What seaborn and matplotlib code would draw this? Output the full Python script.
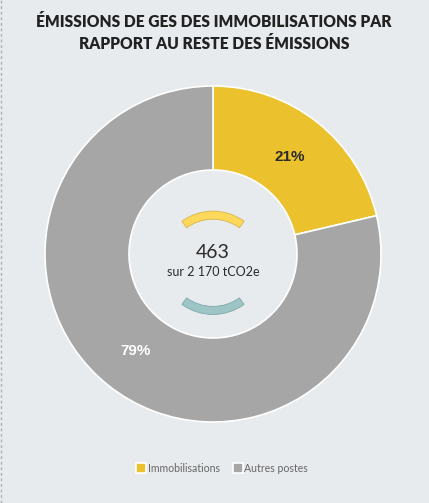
import matplotlib
matplotlib.use("Agg")
import matplotlib.pyplot as plt
import seaborn as sns
from matplotlib.patches import Wedge
from matplotlib.lines import Line2D

# data
categories = ["Immobilisations", "Autres postes"]
values = [463, 1707]
total_label = "sur 2 170 tCO2e"
center_value = "463"
colors = ["#ebc12d", "#a6a6a6"]

bg = "#e8ebee"
sns.set_theme(style="white")
plt.rcParams["font.family"] = ["Lato", "DejaVu Sans"]

fig = plt.figure(figsize=(4.29, 5.03), dpi=100, facecolor=bg)
W, H = 429, 503

# donut centre (213, 254) px, outer radius 168 px
cx, cy, r = 213, 254, 168
ax = fig.add_axes([(cx - r) / W, (H - cy - r) / H, 2 * r / W, 2 * r / H])
ax.set_facecolor(bg)

wedges, texts, autotexts = ax.pie(
    values, colors=colors, startangle=90, counterclock=False,
    autopct="%1.0f%%", pctdistance=0.74,
    wedgeprops=dict(width=0.5, edgecolor="white", linewidth=1.2),
    textprops=dict(fontsize=11, fontweight="bold", family="Liberation Sans"),
)
autotexts[0].set_color("#2b2b2b")
autotexts[1].set_color("white")
ax.set_xlim(-1, 1)
ax.set_ylim(-1, 1)
ax.axis("off")

# decorative arcs in the centre
ax.add_patch(Wedge((0, -0.06), 0.315, 54, 126, width=0.048,
                   facecolor="#fdd85a", edgecolor="#d8b54a", linewidth=0.6))
ax.add_patch(Wedge((0, -0.045), 0.315, 234, 306, width=0.048,
                   facecolor="#9dc5c6", edgecolor="#7fa9aa", linewidth=0.6))

ax.text(0, 0.01, center_value, ha="center", va="center", fontsize=14, color="#2b2b2b")
ax.text(0, -0.105, total_label, ha="center", va="center", fontsize=9, color="#2b2b2b")

# title
fig.text(214 / W, 1 - 22 / H, "ÉMISSIONS DE GES DES IMMOBILISATIONS PAR",
         ha="center", va="center", fontsize=11.2, fontweight="heavy", color="#222222")
fig.text(214 / W, 1 - 44 / H, "RAPPORT AU RESTE DES ÉMISSIONS",
         ha="center", va="center", fontsize=11.2, fontweight="heavy", color="#222222")

# legend
handles = [Line2D([0], [0], marker="s", linestyle="", markersize=7,
                  markerfacecolor=c, markeredgecolor="white", markeredgewidth=1.2)
           for c in colors]
leg = fig.legend(handles, categories, loc="center", bbox_to_anchor=(222 / W, 1 - 468 / H),
                 ncol=2, frameon=False, fontsize=7.6, handletextpad=0.1,
                 columnspacing=1.2, handlelength=1.0)
for t in leg.get_texts():
    t.set_color("#666666")

# dashed left border
fig.add_artist(Line2D([0.5 / W, 0.5 / W], [0, 1], transform=fig.transFigure,
                      color="#b0b0b0", linestyle=(0, (2, 2)), linewidth=1))

fig.savefig("out.png", dpi=100, facecolor=bg)
